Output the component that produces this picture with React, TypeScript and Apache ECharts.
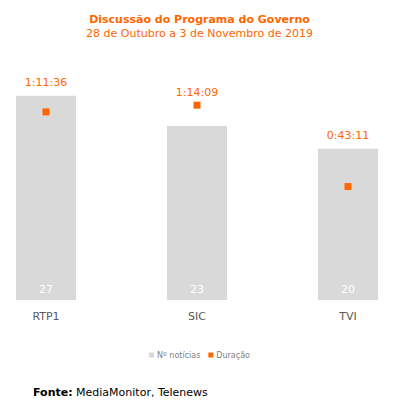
import React, { useEffect, useRef } from "react";
import * as echarts from "echarts";

const categories = ["RTP1", "SIC", "TVI"];
const newsCount = [27, 23, 20];
const durationLabels = ["1:11:36", "1:14:09", "0:43:11"];
const durationSeconds = [4296, 4449, 2591];

const ORANGE = "#FF6600";
const GRAY = "#D9D9D9";
const FONT = "DejaVu Sans, Verdana, sans-serif";

export default function App() {
  const ref = useRef<HTMLDivElement>(null);
  useEffect(() => {
    if (!ref.current) return;
    const chart = echarts.init(ref.current, undefined, { renderer: "svg" });
    const option: any = {
      animation: false,
      backgroundColor: "#fff",
      title: {
        text: "Discussão do Programa do Governo",
        subtext: "28 de Outubro a 3 de Novembro de 2019",
        left: "center",
        top: 9,
        itemGap: 3,
        textStyle: { color: ORANGE, fontFamily: FONT, fontSize: 11, fontWeight: "bold" },
        subtextStyle: { color: ORANGE, fontFamily: FONT, fontSize: 11 },
      },
      legend: {
        bottom: 48,
        left: "center",
        itemWidth: 5,
        itemHeight: 5,
        itemGap: 8,
        textStyle: { color: "#7f7f7f", fontFamily: FONT, fontSize: 8, padding: [0, 0, 0, -2] },
        data: [
          { name: "Nº notícias", icon: "rect" },
          { name: "Duração", icon: "rect" },
        ],
      },
      grid: { left: 46, right: 51, top: 73, bottom: 112 },
      xAxis: {
        type: "category",
        data: categories,
        boundaryGap: false,
        axisLine: { show: false },
        axisTick: { show: false },
        axisLabel: { color: "#595959", fontFamily: FONT, fontSize: 11, margin: 11 },
      },
      yAxis: [
        { type: "value", min: 0, max: 30, show: false, splitLine: { show: false } },
        { type: "value", min: 0, max: 5184, show: false, splitLine: { show: false } },
      ],
      series: [
        {
          name: "Nº notícias",
          type: "bar",
          data: newsCount,
          barWidth: 60,
          itemStyle: { color: GRAY },
          label: {
            show: true,
            position: "insideBottom",
            distance: 5,
            color: "#fff",
            fontFamily: FONT,
            fontSize: 11,
          },
        },
        {
          name: "Duração",
          type: "scatter",
          yAxisIndex: 1,
          symbol: "rect",
          symbolSize: 7,
          itemStyle: { color: ORANGE, opacity: 1 },
          data: durationSeconds.map((v, i) => ({ value: v, name: durationLabels[i] })),
          label: {
            show: true,
            position: "top",
            formatter: (p: any) => durationLabels[p.dataIndex],
            color: ORANGE,
            opacity: 1,
            fontFamily: FONT,
            fontSize: 11,
          },
        },
      ],
      graphic: [
        {
          type: "text",
          left: 33,
          top: 387,
          style: {
            text: "{b|Fonte:} MediaMonitor, Telenews",
            rich: {
              b: { fontWeight: "bold", fontFamily: FONT, fontSize: 11, fill: "#000" },
            },
            fontFamily: FONT,
            fontSize: 11,
            fill: "#000",
          },
        },
      ],
    };
    chart.setOption(option);
    // place each duration label above the higher of the bar top and the marker
    const data = durationSeconds.map((v, i) => {
      const barTop = chart.convertToPixel({ yAxisIndex: 0 }, newsCount[i]) as number;
      const markY = chart.convertToPixel({ yAxisIndex: 1 }, v) as number;
      const labelY = Math.min(barTop, markY) - 13;
      return {
        value: v,
        name: durationLabels[i],
        label: { position: "inside", offset: [0, labelY - markY] },
      };
    });
    chart.setOption({ series: [{}, { data }] });
    return () => chart.dispose();
  }, []);
  return <div ref={ref} style={{ width: 399, height: 412, margin: -8 }} />;
}
